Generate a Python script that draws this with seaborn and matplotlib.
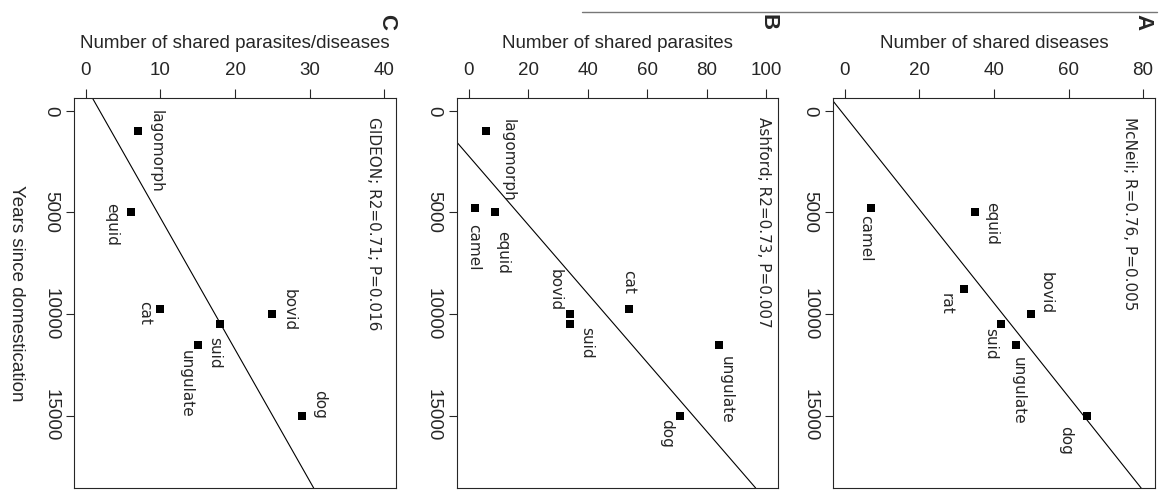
import numpy as np
import pandas as pd
import matplotlib
matplotlib.use("Agg")
import matplotlib.pyplot as plt
from matplotlib.lines import Line2D
import seaborn as sns

sns.set_style("ticks")
plt.rcParams['font.family'] = ['Liberation Sans', 'DejaVu Sans']

# panel A: McNeil
a_animals = ['camel', 'equid', 'rat', 'bovid', 'suid', 'ungulate', 'dog']
a_years = [4800, 5000, 8750, 10000, 10500, 11500, 15000]
a_shared = [7, 35, 32, 50, 42, 46, 65]

# panel B: Ashford
b_animals = ['lagomorph', 'camel', 'equid', 'cat', 'bovid', 'suid', 'ungulate', 'dog']
b_years = [1000, 4800, 5000, 9750, 10000, 10500, 11500, 15000]
b_shared = [6, 2, 9, 54, 34, 34, 84, 71]

# panel C: GIDEON
c_animals = ['lagomorph', 'equid', 'cat', 'bovid', 'suid', 'ungulate', 'dog']
c_years = [1000, 5000, 9750, 10000, 10500, 11500, 15000]
c_shared = [7, 6, 10, 25, 18, 15, 29]

# label offsets in pixels (right, down)
a_off = {'camel': (-5, 30), 'equid': (16, 11), 'rat': (-18, 15), 'bovid': (15, -21),
         'suid': (-11, 20), 'ungulate': (2, 46), 'dog': (-22, 25)}
b_off = {'lagomorph': (22, 29), 'camel': (-1, 39), 'equid': (7, 40), 'cat': (-1, -27),
         'bovid': (-15, -24), 'suid': (17, 19), 'ungulate': (8, 45), 'dog': (-13, 18)}
c_off = {'lagomorph': (18, 20), 'equid': (-19, 12), 'cat': (-16, 4), 'bovid': (17, -4),
         'suid': (-5, 29), 'ungulate': (-11, 39), 'dog': (18, -11)}

W, H = 1168, 493
fig = plt.figure(figsize=(W / 100, H / 100), dpi=100)


def panel(left_px, right_px, animals, years, shared, offsets, xmax, xstep,
          xlabel, note, note_x, letter, letter_x, ylabel=None):
    ax = fig.add_axes([left_px / W, (H - 488) / H, (right_px - left_px) / W, (488 - 97.7) / H])
    df = pd.DataFrame({'animal': animals, 'years': years, 'shared': shared})
    sns.scatterplot(data=df, x='shared', y='years', marker='s', color='black',
                    s=26, linewidth=0, ax=ax, zorder=3)
    # regression of shared on years
    b1, b0 = np.polyfit(df.years, df.shared, 1)
    ax.axline((b0, 0), (b0 + b1 * 10000, 10000), color='black', lw=0.8)
    for _, r in df.iterrows():
        dx, dy = offsets[r.animal]
        ax.annotate(r.animal, (r.shared, r.years), xytext=(dx, -dy),
                    textcoords='offset pixels', rotation=-90, ha='center',
                    va='center', fontsize=11, family='DejaVu Sans')
    pad = 0.04 * xmax
    ax.set_xlim(-pad, xmax + pad)
    ax.set_ylim(18560, -650)
    ax.set_xticks(np.arange(0, xmax + 1, xstep))
    ax.set_yticks([0, 5000, 10000, 15000])
    ax.xaxis.tick_top()
    ax.xaxis.set_label_position('top')
    ax.tick_params(axis='x', length=6.5, width=0.8, pad=7, labelsize=13.5)
    ax.tick_params(axis='y', length=5.5, width=0.8, pad=5, labelsize=13.5)
    plt.setp(ax.get_yticklabels(), rotation=-90, va='center')
    ax.set_xlabel(xlabel, fontsize=13.5, va='center')
    ax.xaxis.set_label_coords(0.5, 1.14)
    if ylabel:
        ax.set_ylabel(ylabel, fontsize=13.5, rotation=-90, va='center', ha='center')
        ax.yaxis.set_label_coords(-0.18, 0.5)
    else:
        ax.set_ylabel('')
    for sp in ax.spines.values():
        sp.set_linewidth(0.8)
        sp.set_visible(True)
    ax.text(note_x, 1 - 0.05, note, transform=ax.transAxes, rotation=-90,
            ha='center', va='top', fontsize=11, family='DejaVu Sans')
    fig.text(letter_x / W, 1 - 22 / H, letter, rotation=-90, ha='center',
             va='center', fontsize=16, fontweight='bold')
    return ax


panel(74, 396, c_animals, c_years, c_shared, c_off, 40, 10,
      'Number of shared parasites/diseases', 'GIDEON; R2=0.71; P=0.016', 0.93,
      'C', 387, ylabel='Years since domestication')
panel(456.7, 778.3, b_animals, b_years, b_shared, b_off, 100, 20,
      'Number of shared parasites', 'Ashford; R2=0.73, P=0.007', 0.953, 'B', 768)
panel(833, 1155, a_animals, a_years, a_shared, a_off, 80, 20,
      'Number of shared diseases', 'McNeil; R=0.76, P=0.005', 0.922, 'A', 1143)

fig.add_artist(Line2D([582 / W, 1157 / W], [1 - 12 / H, 1 - 12 / H],
                      color='#777777', lw=1))

fig.savefig('out.png', dpi=100)
